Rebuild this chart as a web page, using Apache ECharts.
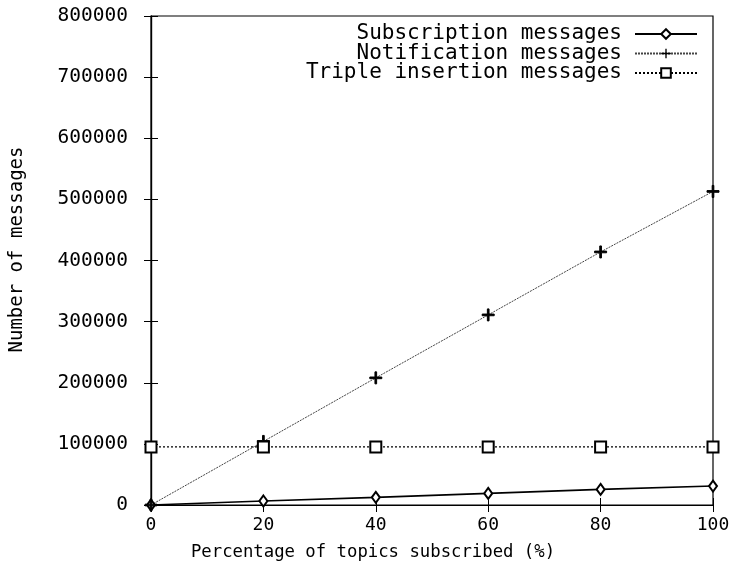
<!DOCTYPE html>
<html>
<head>
<meta charset="utf-8">
<script src="https://cdn.jsdelivr.net/npm/echarts@6/dist/echarts.min.js"></script>
<style>html,body{margin:0;padding:0;background:#fff}#c{width:746px;height:569px}</style>
</head>
<body>
<div id="c"></div>
<script>
const xValues = [0, 20, 40, 60, 80, 100];
const subscription = [0, 6500, 12500, 19000, 25500, 31000];
const notification = [0, 104000, 208000, 311000, 414000, 513000];
const tripleInsertion = [95000, 95000, 95000, 95000, 95000, 95000];
const seriesNames = ['Subscription messages', 'Notification messages', 'Triple insertion messages'];
const xTitle = 'Percentage of topics subscribed (%)';
const yTitle = 'Number of messages';

const FONT = 'DejaVu Sans Mono';
const pair = (xs, ys) => xs.map((x, i) => [x, ys[i]]);
const plusPath = 'path://M4.3,0H5.7V4.3H10V5.7H5.7V10H4.3V5.7H0V4.3H4.3Z';

const chart = echarts.init(document.getElementById('c'), null, {renderer: 'canvas'});
const legendBase = {
  orient: 'horizontal', align: 'right', right: 43, itemWidth: 62, itemHeight: 12, itemGap: 4,
  textStyle: {fontFamily: FONT, fontSize: 21, color: '#000', padding: [0, 8, 0, 0]},
  inactiveColor: '#000'
};
chart.setOption({
  animation: false,
  backgroundColor: '#fff',
  title: {
    text: xTitle, left: 'center', top: 539,
    textStyle: {fontFamily: FONT, fontSize: 17.3, fontWeight: 'normal', color: '#000'}
  },
  legend: [
    Object.assign({}, legendBase, {data: [seriesNames[0]], top: 18.5}),
    Object.assign({}, legendBase, {data: [seriesNames[1]], top: 38}),
    Object.assign({}, legendBase, {data: [seriesNames[2]], top: 57.5})
  ],
  grid: {left: 146, right: 33, top: 16, bottom: 64, show: true, borderColor: '#000', borderWidth: 1.2},
  xAxis: [
    {
      type: 'value', min: 0, max: 100, interval: 20, position: 'bottom',
      axisLine: {show: true, onZero: false, lineStyle: {color: '#000', width: 1.2}},
      axisTick: {show: true, inside: true, length: 7, lineStyle: {color: '#000'}},
      axisLabel: {fontFamily: FONT, fontSize: 18, color: '#000', margin: 11},
      splitLine: {show: false}
    },
    {
      type: 'value', min: 0, max: 100, interval: 20, position: 'top',
      axisLine: {show: true, lineStyle: {color: '#000', width: 1.2}},
      axisTick: {show: true, inside: true, length: 7, lineStyle: {color: '#000'}},
      axisLabel: {show: false}, splitLine: {show: false}
    }
  ],
  yAxis: [
    {
      type: 'value', min: 0, max: 800000, interval: 100000, position: 'left',
      name: yTitle, nameLocation: 'middle', nameGap: 124, nameRotate: 90,
      nameTextStyle: {fontFamily: FONT, fontSize: 19, color: '#000', padding: [0, 0, 0, 22]},
      axisLine: {show: true, lineStyle: {color: '#000', width: 1.2}},
      axisTick: {show: true, inside: true, length: 7, lineStyle: {color: '#000'}},
      axisLabel: {fontFamily: FONT, fontSize: 19.5, color: '#000', margin: 23, formatter: v => String(v)},
      splitLine: {show: false}
    },
    {
      type: 'value', min: 0, max: 800000, interval: 100000, position: 'right',
      axisLine: {show: true, lineStyle: {color: '#000', width: 1.2}},
      axisTick: {show: true, inside: true, length: 7, lineStyle: {color: '#000'}},
      axisLabel: {show: false}, splitLine: {show: false}
    }
  ],
  series: [
    {
      name: seriesNames[0], type: 'line', data: pair(xValues, subscription),
      symbol: 'emptyDiamond', symbolSize: [8, 11],
      lineStyle: {color: '#000', width: 1.6, type: 'solid'},
      itemStyle: {color: '#000', borderColor: '#000', borderWidth: 1.2}
    },
    {
      name: seriesNames[1], type: 'line', data: pair(xValues, notification),
      symbol: plusPath, symbolSize: 12,
      lineStyle: {color: '#444', width: 1, type: [2, 1]},
      itemStyle: {color: '#000', borderColor: '#000'}
    },
    {
      name: seriesNames[2], type: 'line', data: pair(xValues, tripleInsertion),
      symbol: 'emptyRect', symbolSize: 11,
      lineStyle: {color: '#000', width: 1.2, type: [2, 2]},
      itemStyle: {color: '#000', borderColor: '#000', borderWidth: 1.5}
    }
  ]
});
</script>
</body>
</html>
